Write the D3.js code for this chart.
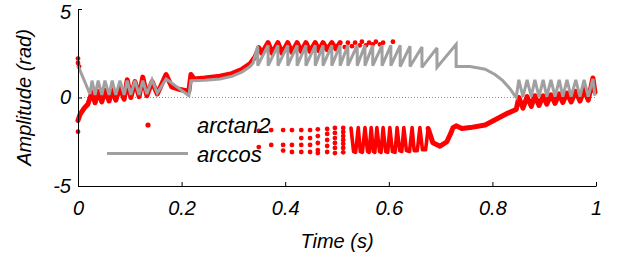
<!DOCTYPE html>
<html>
<head>
<meta charset="utf-8">
<script src="https://cdn.jsdelivr.net/npm/d3@7"></script>
<style>
body { margin: 0; background: #fff; }
text { font-family: "Liberation Sans", Arial, sans-serif; font-style: italic; fill: #000; }
</style>
</head>
<body>
<svg width="623" height="256"></svg>
<script>
// x ticks / y ticks
var xTicks = [0, 0.2, 0.4, 0.6, 0.8, 1];
var yTicks = [-5, 0, 5];

// arccos (grey line), [time, rad]
var arccosPts = [
  [0, 1.8], [0.023, 0.2], [0.027, 0.95], [0.033, 0.15], [0.039, 0.95], [0.046, 0.15],
  [0.052, 0.95], [0.060, 0.15], [0.066, 0.95], [0.073, 0.15], [0.081, 0.95], [0.089, 0.15],
  [0.095, 0.95], [0.102, 0.15], [0.110, 0.95], [0.118, 0.15], [0.125, 0.95], [0.133, 0.2],
  [0.143, 1.0], [0.153, 0.25], [0.170, 1.05], [0.214, 0.1], [0.218, 0.95], [0.245, 0.97],
  [0.274, 1.05], [0.297, 1.2], [0.317, 1.45], [0.332, 1.75], [0.338, 1.95], [0.347, 2.9],
  [0.347, 1.8], [0.367, 2.95], [0.367, 1.8], [0.386, 2.95], [0.386, 1.8], [0.405, 2.95],
  [0.405, 1.8], [0.423, 2.95], [0.423, 1.8], [0.440, 2.95], [0.440, 1.8], [0.458, 2.95],
  [0.458, 1.8], [0.473, 2.95], [0.473, 1.8], [0.490, 2.95], [0.490, 1.8], [0.506, 2.95],
  [0.506, 1.8], [0.521, 2.95], [0.521, 1.8], [0.539, 2.95], [0.539, 1.8], [0.554, 2.95],
  [0.554, 1.8], [0.569, 2.95], [0.569, 1.8], [0.587, 2.95], [0.587, 1.8], [0.604, 2.95],
  [0.604, 1.8], [0.622, 2.95], [0.622, 1.75], [0.641, 2.9], [0.641, 1.75], [0.664, 2.85],
  [0.664, 1.7], [0.693, 2.8], [0.693, 1.7], [0.730, 3.0], [0.730, 1.75], [0.757, 1.75],
  [0.786, 1.6], [0.805, 1.3], [0.820, 0.95], [0.834, 0.5], [0.842, 0.15], [0.846, 0.02],
  [0.851, 1.0], [0.859, 0.05], [0.867, 1.0], [0.875, 0.05], [0.882, 1.0], [0.890, 0.05],
  [0.898, 1.0], [0.905, 0.05], [0.913, 1.0], [0.921, 0.05], [0.929, 1.0], [0.936, 0.05],
  [0.944, 1.0], [0.952, 0.05], [0.961, 1.0], [0.969, 0.05], [0.977, 1.0], [0.985, 0.05],
  [0.994, 1.05], [0.998, 0.1]
];

// arctan2 where the dots are so close they form a band
var arctanBand1 = [
  [0, -1.3], [0.004, -0.95], [0.012, -0.6], [0.019, -0.38], [0.027, 0.3], [0.033, -0.3],
  [0.039, 0.35], [0.046, -0.25], [0.052, 0.4], [0.060, -0.2], [0.066, 0.45], [0.073, -0.15],
  [0.081, 0.6], [0.089, -0.1], [0.095, 1.0], [0.102, 0.0], [0.110, 0.9], [0.118, 0.05],
  [0.125, 1.15], [0.133, 0.1], [0.143, 0.9], [0.153, 0.2], [0.170, 1.3], [0.181, 0.6],
  [0.197, 0.45], [0.214, 0.35], [0.218, 1.3], [0.224, 1.05], [0.245, 1.1], [0.274, 1.2],
  [0.297, 1.35], [0.317, 1.6], [0.332, 1.9], [0.342, 2.3], [0.349, 2.8]
];
var arctanBand2 = [
  [0.349, 2.8], [0.355, 2.5], [0.367, 3.1], [0.375, 2.5], [0.386, 3.1], [0.394, 2.5],
  [0.405, 3.1], [0.413, 2.55], [0.423, 3.1], [0.431, 2.6], [0.440, 3.1], [0.448, 2.6],
  [0.458, 3.1], [0.465, 2.65], [0.473, 3.1], [0.481, 2.7], [0.490, 3.1], [0.498, 2.75],
  [0.506, 3.1]
];
// the wavy part around -2.5 rad
var arctanWave = [
  [0.527, -1.72], [0.532, -3.05], [0.536, -3.1], [0.541, -1.7], [0.545, -3.05], [0.549, -3.1],
  [0.554, -1.7], [0.559, -3.05], [0.562, -3.1], [0.566, -1.7], [0.570, -3.05], [0.573, -3.1],
  [0.577, -1.7], [0.582, -3.05], [0.585, -3.1], [0.589, -1.7], [0.594, -3.05], [0.598, -3.1],
  [0.602, -1.7], [0.607, -3.05], [0.612, -3.1], [0.616, -1.7], [0.621, -3.0], [0.625, -3.05],
  [0.629, -1.7], [0.634, -3.0], [0.640, -3.05], [0.645, -1.7], [0.649, -3.0], [0.655, -3.0],
  [0.660, -1.7], [0.665, -2.95], [0.671, -2.95], [0.676, -1.75]
];
var arctanBand3 = [
  [0.676, -1.75], [0.685, -2.55], [0.699, -2.75], [0.712, -2.5], [0.720, -2.0], [0.724, -1.7],
  [0.730, -1.6], [0.741, -1.75], [0.757, -1.7], [0.786, -1.55], [0.809, -1.2], [0.830, -0.88],
  [0.846, -0.68], [0.851, 0.0], [0.859, -0.6], [0.867, 0.05], [0.875, -0.5], [0.882, 0.1],
  [0.890, -0.45], [0.898, 0.1], [0.905, -0.38], [0.913, 0.15], [0.921, -0.33], [0.929, 0.2],
  [0.936, -0.28], [0.944, 0.25], [0.952, -0.25], [0.961, 0.35], [0.969, -0.2], [0.977, 0.45],
  [0.985, -0.15], [0.994, 1.1], [0.998, 0.3]
];

// arctan2 single dots
var arctanDots = [
  [0, 2.2], [0, 1.95], [0.002, 1.75], [0, -1.93],
  [0.515, 2.85], [0.521, 3.1], [0.529, 2.9], [0.535, 3.1], [0.544, 2.95], [0.548, 3.15],
  [0.556, 2.95], [0.562, 3.1], [0.569, 3.0], [0.575, 3.15], [0.583, 3.0], [0.589, 3.1],
  [0.608, 3.15],
  [0.349, -1.89], [0.349, -2.8],
  [0.373, -1.84], [0.373, -2.68],
  [0.396, -1.84], [0.396, -2.68], [0.396, -3.0],
  [0.413, -1.84], [0.413, -2.68], [0.413, -3.08],
  [0.431, -1.84], [0.431, -2.29], [0.431, -2.68], [0.431, -3.08],
  [0.448, -1.84], [0.448, -2.29], [0.448, -2.68], [0.448, -3.08],
  [0.463, -1.8], [0.463, -2.18], [0.463, -2.57], [0.463, -2.97], [0.463, -3.14],
  [0.481, -1.78], [0.481, -2.06], [0.481, -2.4], [0.481, -2.74], [0.481, -3.08],
  [0.496, -1.72], [0.496, -2.0], [0.496, -2.29], [0.496, -2.57], [0.496, -2.85], [0.496, -3.14],
  [0.512, -1.72], [0.512, -1.95], [0.512, -2.18], [0.512, -2.4], [0.512, -2.62], [0.512, -2.85], [0.512, -3.1]
];

var svg = d3.select("svg");
var margin = {left: 78, right: 27, top: 9, bottom: 70};
var width = +svg.attr("width"), height = +svg.attr("height");

var x = d3.scaleLinear().domain([0, 1]).range([margin.left, width - margin.right]);
var y = d3.scaleLinear().domain([-5, 5]).range([height - margin.bottom, margin.top]);

var red = "#ff0000", grey = "#a0a0a0";

// zero line
svg.append("line")
    .attr("x1", x(0)).attr("x2", x(1))
    .attr("y1", y(0)).attr("y2", y(0))
    .attr("stroke", "#8c8c8c")
    .attr("stroke-width", 1)
    .attr("stroke-dasharray", "1,2");

var line = d3.line()
    .x(function(d) { return x(d[0]); })
    .y(function(d) { return y(d[1]); });

svg.append("g")
  .selectAll("path")
  .data([arctanBand1, arctanBand2, arctanBand3])
  .enter().append("path")
    .attr("d", line)
    .attr("fill", "none")
    .attr("stroke", red)
    .attr("stroke-width", 5)
    .attr("stroke-linejoin", "round")
    .attr("stroke-linecap", "round");

svg.append("path")
    .datum(arctanWave)
    .attr("d", line)
    .attr("fill", "none")
    .attr("stroke", red)
    .attr("stroke-width", 3.6)
    .attr("stroke-linejoin", "round")
    .attr("stroke-linecap", "round");

svg.append("g")
  .selectAll("circle")
  .data(arctanDots)
  .enter().append("circle")
    .attr("cx", function(d) { return x(d[0]); })
    .attr("cy", function(d) { return y(d[1]); })
    .attr("r", 2.4)
    .attr("fill", red);

svg.append("path")
    .datum(arccosPts)
    .attr("d", line)
    .attr("fill", "none")
    .attr("stroke", grey)
    .attr("stroke-width", 3)
    .attr("stroke-linejoin", "miter")
    .attr("stroke-miterlimit", 3);

// axes
var xAxis = svg.append("g")
    .attr("transform", "translate(0," + y(-5) + ")")
    .call(d3.axisBottom(x).tickValues(xTicks).tickSize(-4).tickSizeOuter(0).tickPadding(15)
      .tickFormat(function(d) { return d; }));
var yAxis = svg.append("g")
    .attr("transform", "translate(" + x(0) + ",0)")
    .call(d3.axisLeft(y).tickValues(yTicks).tickSize(-4).tickSizeOuter(0).tickPadding(7)
      .tickFormat(function(d) { return d; }));

svg.selectAll(".tick text")
    .attr("font-family", null)
    .attr("font-size", null)
    .style("font-size", "20px");
yAxis.selectAll(".tick text").attr("dy", function(d) { return d === 5 ? "0.46em" : "0.32em"; });
svg.selectAll(".domain, .tick line").attr("stroke", "#000");

svg.append("text")
    .attr("x", (x(0) + x(1)) / 2)
    .attr("y", 248)
    .attr("text-anchor", "middle")
    .style("font-size", "20px")
    .text("Time (s)");

svg.append("text")
    .attr("transform", "translate(31," + y(0) + ") rotate(-90)")
    .attr("text-anchor", "middle")
    .style("font-size", "20px")
    .text("Amplitude (rad)");

// legend
var legend = svg.append("g");
legend.append("circle")
    .attr("cx", 148).attr("cy", 125).attr("r", 2.6)
    .attr("fill", red);
legend.append("text")
    .attr("x", 197).attr("y", 133)
    .style("font-size", "22px")
    .text("arctan2");
legend.append("line")
    .attr("x1", 107).attr("x2", 188)
    .attr("y1", 153.5).attr("y2", 153.5)
    .attr("stroke", grey)
    .attr("stroke-width", 3);
legend.append("text")
    .attr("x", 197).attr("y", 162)
    .style("font-size", "22px")
    .text("arccos");
</script>
</body>
</html>
